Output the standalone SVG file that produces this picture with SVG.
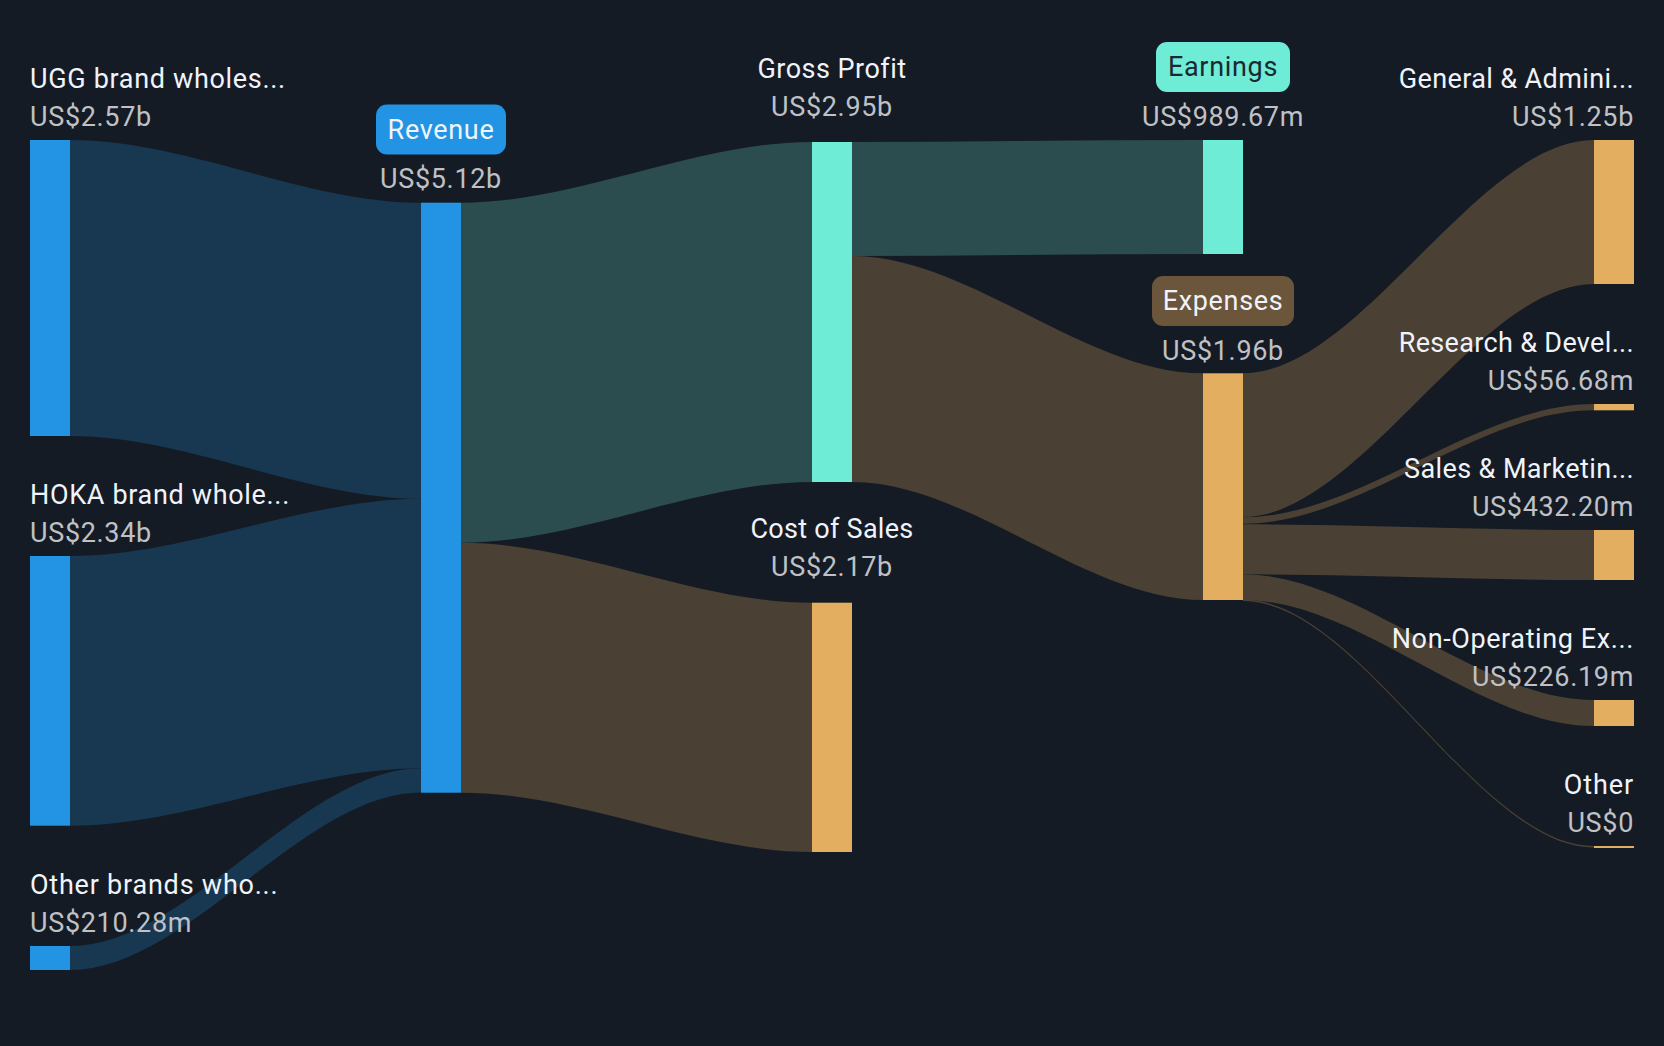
<svg xmlns="http://www.w3.org/2000/svg" width="1664" height="1046" viewBox="0 0 1664 1046">
<style>
text{font-family:Roboto,"Liberation Sans",sans-serif;font-size:27px;letter-spacing:.67px}
.n{fill:#f0f4fa}.v{fill:#bfc1c6}.d{fill:#1b2832}
.m{text-anchor:middle}.e{text-anchor:end}
.lb{fill:#183852}.lt{fill:#2c4d50}.lo{fill:#4b4034}
.nb{fill:#2394e3}.nt{fill:#6fecd5}.no{fill:#e4ae60}
</style>
<rect width="1664" height="1046" fill="#151b24"/>
<g id="connectors">
<path class="lb" d="M70 140C187 140 304 202.700 421 202.700L421 498.700C304 498.700 187 436 70 436Z"/>
<path class="lb" d="M70 556C187 556 304 498.700 421 498.700L421 768.300C304 768.300 187 825.700 70 825.700Z"/>
<path class="lb" d="M70 946C187 946 304 768.300 421 768.300L421 792.500C304 792.500 187 970 70 970Z"/>
<path class="lt" d="M461 202.700C578 202.700 695 142 812 142L812 482C695 482 578 542.700 461 542.700Z"/>
<path class="lo" d="M461 542.700C578 542.700 695 602.700 812 602.700L812 852C695 852 578 792.700 461 792.700Z"/>
<path class="lt" d="M852 142C969 142 1086 140 1203 140L1203 254C1086 254 969 256 852 256Z"/>
<path class="lo" d="M852 256C969 256 1086 373.300 1203 373.300L1203 600C1086 600 969 482 852 482Z"/>
<path class="lo" d="M1243 373.300C1360 373.300 1477 140 1594 140L1594 284C1477 284 1360 517 1243 517Z"/>
<path class="lo" d="M1243 517.300C1360 517.300 1477 404 1594 404L1594 410.300C1477 410.300 1360 523.800 1243 523.800Z"/>
<path class="lo" d="M1243 524.300C1360 524.300 1477 530 1594 530L1594 580C1477 580 1360 574.300 1243 574.300Z"/>
<path class="lo" d="M1243 574.300C1360 574.300 1477 700 1594 700L1594 726C1477 726 1360 600 1243 600Z"/>
<path class="lo" d="M1243 599.500C1360 599.500 1477 846 1594 846L1594 847.500C1477 847.500 1360 601 1243 601Z"/>
</g>
<g id="node-ugg"><rect class="nb" x="30" y="140" width="40" height="296"/><text class="n" x="30" y="88">UGG brand wholes...</text><text class="v" x="30" y="126">US$2.57b</text></g>
<g id="node-hoka"><rect class="nb" x="30" y="556" width="40" height="269.700"/><text class="n" x="30" y="504">HOKA brand whole...</text><text class="v" x="30" y="542">US$2.34b</text></g>
<g id="node-other-brands"><rect class="nb" x="30" y="946" width="40" height="24"/><text class="n" x="30" y="894" style="letter-spacing:.78px">Other brands who...</text><text class="v" x="30" y="932">US$210.28m</text></g>
<g id="node-revenue"><rect class="nb" x="421" y="202.700" width="40" height="590"/><rect class="nb" x="376" y="104.500" width="130" height="50" rx="11"/><text class="n m" x="441" y="138.500">Revenue</text><text class="v m" x="441" y="188">US$5.12b</text></g>
<g id="node-gross-profit"><rect class="nt" x="812" y="142" width="40" height="340"/><text class="n m" x="832" y="78" style="letter-spacing:.49px">Gross Profit</text><text class="v m" x="832" y="116">US$2.95b</text></g>
<g id="node-cost-of-sales"><rect class="no" x="812" y="602.700" width="40" height="249.300"/><text class="n m" x="832" y="538" style="letter-spacing:.27px">Cost of Sales</text><text class="v m" x="832" y="576">US$2.17b</text></g>
<g id="node-earnings"><rect class="nt" x="1203" y="140" width="40" height="114"/><rect class="nt" x="1156" y="42" width="134" height="50" rx="11"/><text class="d m" x="1223" y="76">Earnings</text><text class="v m" x="1223" y="126">US$989.67m</text></g>
<g id="node-expenses"><rect class="no" x="1203" y="373.300" width="40" height="226.700"/><rect fill="#6b563c" x="1152" y="276" width="142" height="50" rx="11"/><text class="n m" x="1223" y="310">Expenses</text><text class="v m" x="1223" y="360">US$1.96b</text></g>
<g id="node-general"><rect class="no" x="1594" y="140" width="40" height="144"/><text class="n e" x="1634" y="88" style="letter-spacing:.39px">General &amp; Admini...</text><text class="v e" x="1634" y="126">US$1.25b</text></g>
<g id="node-research"><rect class="no" x="1594" y="404" width="40" height="6.300"/><text class="n e" x="1634" y="352" style="letter-spacing:.33px">Research &amp; Devel...</text><text class="v e" x="1634" y="390">US$56.68m</text></g>
<g id="node-sales"><rect class="no" x="1594" y="530" width="40" height="50"/><text class="n e" x="1634" y="478" style="letter-spacing:.39px">Sales &amp; Marketin...</text><text class="v e" x="1634" y="516">US$432.20m</text></g>
<g id="node-non-operating"><rect class="no" x="1594" y="700" width="40" height="26"/><text class="n e" x="1634" y="648" style="letter-spacing:.61px">Non-Operating Ex...</text><text class="v e" x="1634" y="686">US$226.19m</text></g>
<g id="node-other"><rect class="no" x="1594" y="846" width="40" height="2"/><text class="n e" x="1634" y="794" style="letter-spacing:.88px">Other</text><text class="v e" x="1634" y="832">US$0</text></g>
</svg>
